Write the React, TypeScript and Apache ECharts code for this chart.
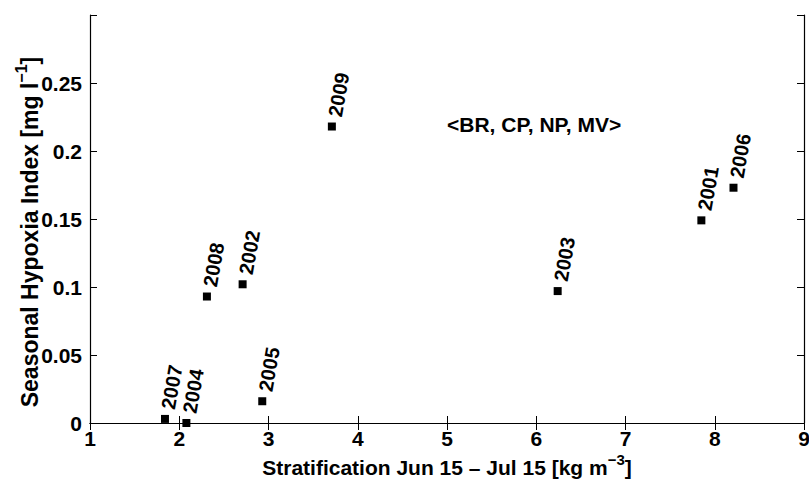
import { useEffect, useRef } from 'react';
import * as echarts from 'echarts';

const years = ['2007', '2004', '2005', '2008', '2002', '2009', '2003', '2001', '2006'];
const stratification = [1.84, 2.08, 2.93, 2.31, 2.71, 3.71, 6.24, 7.85, 8.21];
const hypoxiaIndex = [0.003, 0.0, 0.016, 0.093, 0.102, 0.218, 0.097, 0.149, 0.173];
const xTicks = [1, 2, 3, 4, 5, 6, 7, 8, 9];
const yTickLabels = ['0', '0.05', '0.1', '0.15', '0.2', '0.25'];
const annotation = '<BR, CP, NP, MV>';

const FONT = '"Liberation Sans", Arial, Helvetica, sans-serif';

export default function App() {
  const ref = useRef<HTMLDivElement>(null);
  useEffect(() => {
    const chart = echarts.init(ref.current!, null, { renderer: 'svg' });
    const data = years.map((y, i) => ({ name: y, value: [stratification[i], hypoxiaIndex[i]] }));
    const axisLine = { show: true, lineStyle: { color: '#000', width: 1.2 } };
    const tick = { show: true, inside: true, length: 7, lineStyle: { color: '#000', width: 1 } };
    const richTitle = (size: number) => ({
      a: { fontSize: size, fontWeight: 'bold', fill: '#000', color: '#000', fontFamily: FONT, lineHeight: size + 5, verticalAlign: 'bottom' },
      s: { fontSize: Math.round(size * 0.7), fontWeight: 'bold', fill: '#000', color: '#000', fontFamily: FONT, lineHeight: size + 5, verticalAlign: 'top', padding: [0, 0, 10, 0] },
    });
    chart.setOption({
      animation: false,
      backgroundColor: '#fff',
      textStyle: { fontFamily: FONT },
      grid: { left: 90, right: 5, top: 15, bottom: 56, containLabel: false, outerBoundsMode: 'none' },
      xAxis: [
        {
          type: 'value',
          min: xTicks[0],
          max: xTicks[xTicks.length - 1],
          interval: 1,
          position: 'bottom',
          axisLine,
          axisTick: tick,
          splitLine: { show: false },
          axisLabel: { color: '#000', fontSize: 21, fontWeight: 'bold', margin: 5, fontFamily: FONT },
        },
        {
          type: 'value',
          min: xTicks[0],
          max: xTicks[xTicks.length - 1],
          interval: 1,
          position: 'top',
          axisLine,
          axisTick: tick,
          splitLine: { show: false },
          axisLabel: { show: false },
        },
      ],
      yAxis: [
        {
          type: 'value',
          min: 0,
          max: 0.3,
          interval: 0.05,
          position: 'left',
          axisLine,
          axisTick: tick,
          splitLine: { show: false },
          axisLabel: {
            color: '#000',
            fontSize: 21,
            fontWeight: 'bold',
            margin: 8,
            fontFamily: FONT,
            formatter: (v: number) => {
              const idx = Math.round(v / 0.05);
              return idx < yTickLabels.length ? yTickLabels[idx] : '';
            },
          },
        },
        {
          type: 'value',
          min: 0,
          max: 0.3,
          interval: 0.05,
          position: 'right',
          axisLine,
          axisTick: tick,
          splitLine: { show: false },
          axisLabel: { show: false },
        },
      ],
      graphic: [
        {
          type: 'text',
          left: 447,
          top: 114,
          style: { text: annotation, fill: '#000', font: `bold 21px ${FONT}` },
        },
        {
          type: 'text',
          x: 447,
          y: 465,
          style: {
            text: '{a|Stratification Jun 15 – Jul 15 [kg m}{s|−3}{a|]}',
            align: 'center',
            verticalAlign: 'middle',
            rich: richTitle(21),
          },
        },
        {
          type: 'text',
          x: 27,
          y: 232,
          rotation: Math.PI / 2,
          style: {
            text: '{a|Seasonal Hypoxia Index [mg l}{s|−1}{a|]}',
            align: 'center',
            verticalAlign: 'middle',
            rich: richTitle(23),
          },
        },
      ],
      series: [
        {
          type: 'scatter',
          xAxisIndex: 0,
          yAxisIndex: 0,
          symbol: 'rect',
          symbolSize: 8,
          itemStyle: { color: '#000', opacity: 1 },
          data,
          label: {
            show: true,
            formatter: '{b}',
            position: [7, -6],
            rotate: 80,
            align: 'left',
            verticalAlign: 'middle',
            color: '#000',
            fontSize: 20,
            fontWeight: 'bold',
            fontFamily: FONT,
          },
        },
      ],
    });
    return () => chart.dispose();
  }, []);
  return <div ref={ref} style={{ position: 'fixed', left: 0, top: 0, width: 809, height: 479 }} />;
}
